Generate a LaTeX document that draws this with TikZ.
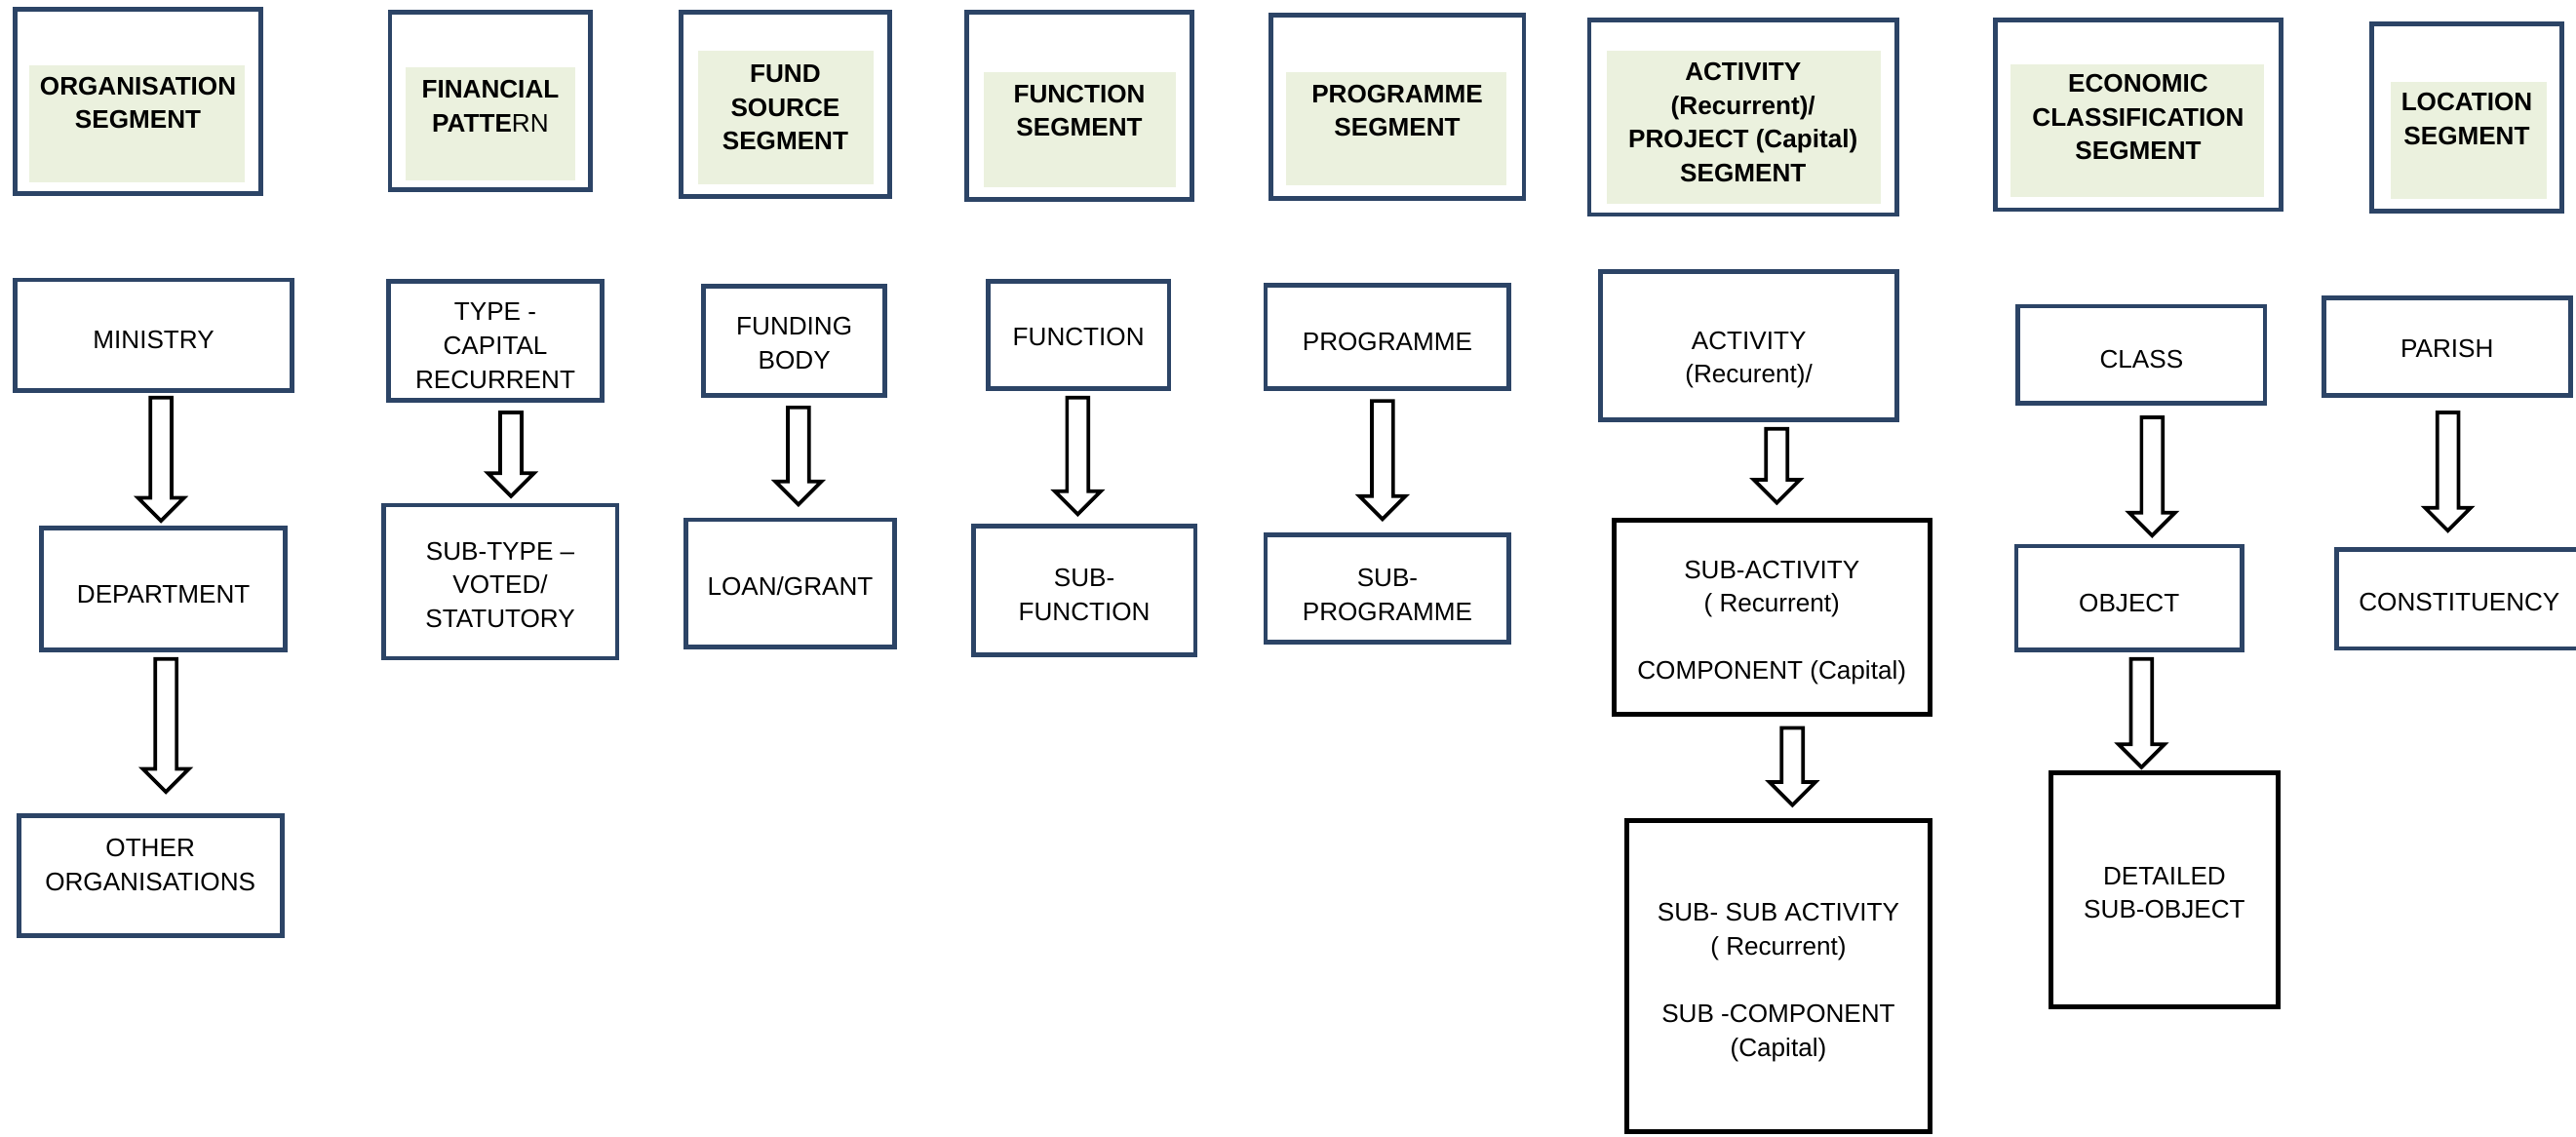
\documentclass[tikz,border=0pt]{standalone}
\usepackage{fontspec}
\setmainfont{Liberation Sans}
\usetikzlibrary{calc}
\definecolor{navy}{RGB}{44,68,102}
\definecolor{lgreen}{RGB}{235,241,222}
\tikzset{
  base/.style={rectangle, inner sep=0pt, align=center, font=\fontsize{15.5}{20.5}\selectfont},
  hdr/.style={base, draw=navy, line width=2.9pt, font=\fontsize{15.5}{20.5}\selectfont\bfseries},
  nbox/.style={base, draw=navy, line width=2.8pt},
  kbox/.style={base, draw=black, line width=3pt},
  txt/.style={inner sep=0pt, align=center},
  barrow/.style={draw=black, fill=white, line width=2.2pt, line join=miter},
  greenbg/.style={fill=lgreen, draw=none},
}
% box from outer edges: [text shift down], style, name, x1, y1, x2, y2, text
\newcommand\mybox[8][2.5]{%
  \node[#2, minimum width={(#6-#4-2.8)*1pt}, minimum height={(#7-#5-2.8)*1pt}] (#3) at ({(#4+#6)/2},{(#5+#7)/2}) {};
  \node[#2, draw=none, txt] (#3-t) at ($(#3.center)+(0,#1)$) {#8};}
% hollow block arrow from start coordinate to tip coordinate
\newcommand\blockarrow[2]{\draw[barrow] let \p1=(#1), \p2=(#2) in
  (\x1-6.5pt,\y1) -- (\x1+6.5pt,\y1) -- (\x1+6.5pt,\y2+14pt) -- (\x1+14pt,\y2+14pt)
  -- (\x1,\y2) -- (\x1-14pt,\y2+14pt) -- (\x1-6.5pt,\y2+14pt) -- cycle;}
\begin{document}
\begin{tikzpicture}[x=1pt,y=-1pt]
\useasboundingbox (0,0) rectangle (1568,692);

% ---- header green panels ----
\fill[greenbg] (18,40) rectangle (149,111);
\fill[greenbg] (247,41) rectangle (350,110);
\fill[greenbg] (425,31) rectangle (532,112);
\fill[greenbg] (599,44) rectangle (716,114);
\fill[greenbg] (783,44) rectangle (917,113);
\fill[greenbg] (978,31) rectangle (1145,124);
\fill[greenbg] (1224,39) rectangle (1378,120);
\fill[greenbg] (1455,50) rectangle (1550,121);

% ---- header boxes ----
\mybox[1]{hdr}{org}{8}{4}{160}{119}{ORGANISATION\\SEGMENT}
\mybox[3]{hdr}{fin}{236}{6}{361}{117}{FINANCIAL\\PATTE{\mdseries RN}}
\mybox[2]{hdr}{fund}{413}{6}{543}{121}{FUND\\SOURCE\\SEGMENT}
\mybox[3]{hdr}{func}{587}{6}{727}{123}{FUNCTION\\SEGMENT}
\mybox[2.5]{hdr}{prog}{772}{8}{929}{122}{PROGRAMME\\SEGMENT}
\mybox[3]{hdr}{act}{966}{11}{1156}{132}{ACTIVITY\\(Recurrent)/\\PROJECT (Capital)\\SEGMENT}
\mybox[1.5]{hdr}{econ}{1213}{11}{1390}{129}{ECONOMIC\\CLASSIFICATION\\SEGMENT}
\mybox[1]{hdr}{loc}{1442}{13}{1561}{130}{LOCATION\\SEGMENT}

% ---- second row ----
\mybox[3]{nbox}{ministry}{8}{169}{179}{239}{MINISTRY}
\mybox[3]{nbox}{type}{235}{170}{368}{245}{TYPE -\\CAPITAL\\RECURRENT}
\mybox[1.5]{nbox}{funding}{427}{173}{540}{242}{FUNDING\\BODY}
\mybox[1]{nbox}{function}{600}{170}{713}{238}{FUNCTION}
\mybox[3]{nbox}{programme}{769}{172}{920}{238}{PROGRAMME}
\mybox[8.5]{nbox}{activity}{973}{164}{1156}{257}{ACTIVITY\\(Recurent)/}
\mybox[3]{nbox}{class}{1227}{185}{1380}{247}{CLASS}
\mybox[1]{nbox}{parish}{1413}{180}{1566}{242}{PARISH}

% ---- third row ----
\mybox[3]{nbox}{department}{24}{320}{175}{397}{DEPARTMENT}
\mybox[2]{nbox}{subtype}{232}{306}{377}{402}{SUB-TYPE –\\VOTED/\\STATUTORY}
\mybox[2]{nbox}{loan}{416}{315}{546}{395}{LOAN/GRANT}
\mybox[2.5]{nbox}{subfunction}{591}{319}{729}{400}{SUB-\\FUNCTION}
\mybox[4]{nbox}{subprog}{769}{324}{920}{392}{SUB-\\PROGRAMME}
\mybox[3.5]{kbox}{subact}{981}{315}{1176}{436}{SUB-ACTIVITY\\( Recurrent)\\[20.5pt]COMPONENT (Capital)}
\mybox[3]{nbox}{object}{1226}{331}{1366}{397}{OBJECT}
\mybox[2]{nbox}{constituency}{1421}{333}{1573}{396}{CONSTITUENCY}

% ---- fourth row ----
\mybox[-6.5]{nbox}{other}{10}{495}{173}{571}{OTHER\\ORGANISATIONS}
\mybox[4]{kbox}{subsub}{989}{498}{1176}{690}{SUB- SUB ACTIVITY\\( Recurrent)\\[20.5pt]SUB -COMPONENT\\(Capital)}
\mybox[2]{kbox}{detailed}{1247}{469}{1388}{614}{DETAILED\\SUB-OBJECT}

% ---- arrow end points ----
\coordinate (a1s) at (98,242);   \coordinate (a1e) at (98,317);
\coordinate (a2s) at (101,401);  \coordinate (a2e) at (101,482);
\coordinate (a3s) at (311,251);  \coordinate (a3e) at (311,302);
\coordinate (a4s) at (486,248);  \coordinate (a4e) at (486,307);
\coordinate (a5s) at (656,242);  \coordinate (a5e) at (656,313);
\coordinate (a6s) at (841.5,244);\coordinate (a6e) at (841.5,316);
\coordinate (a7s) at (1081.5,261);\coordinate (a7e) at (1081.5,306);
\coordinate (a8s) at (1091,443); \coordinate (a8e) at (1091,490);
\coordinate (a9s) at (1310,254); \coordinate (a9e) at (1310,326);
\coordinate (a10s) at (1303.5,401);\coordinate (a10e) at (1303.5,467);
\coordinate (a11s) at (1490,251);\coordinate (a11e) at (1490,323);

\blockarrow{a1s}{a1e}
\blockarrow{a2s}{a2e}
\blockarrow{a3s}{a3e}
\blockarrow{a4s}{a4e}
\blockarrow{a5s}{a5e}
\blockarrow{a6s}{a6e}
\blockarrow{a7s}{a7e}
\blockarrow{a8s}{a8e}
\blockarrow{a9s}{a9e}
\blockarrow{a10s}{a10e}
\blockarrow{a11s}{a11e}
\end{tikzpicture}
\end{document}
